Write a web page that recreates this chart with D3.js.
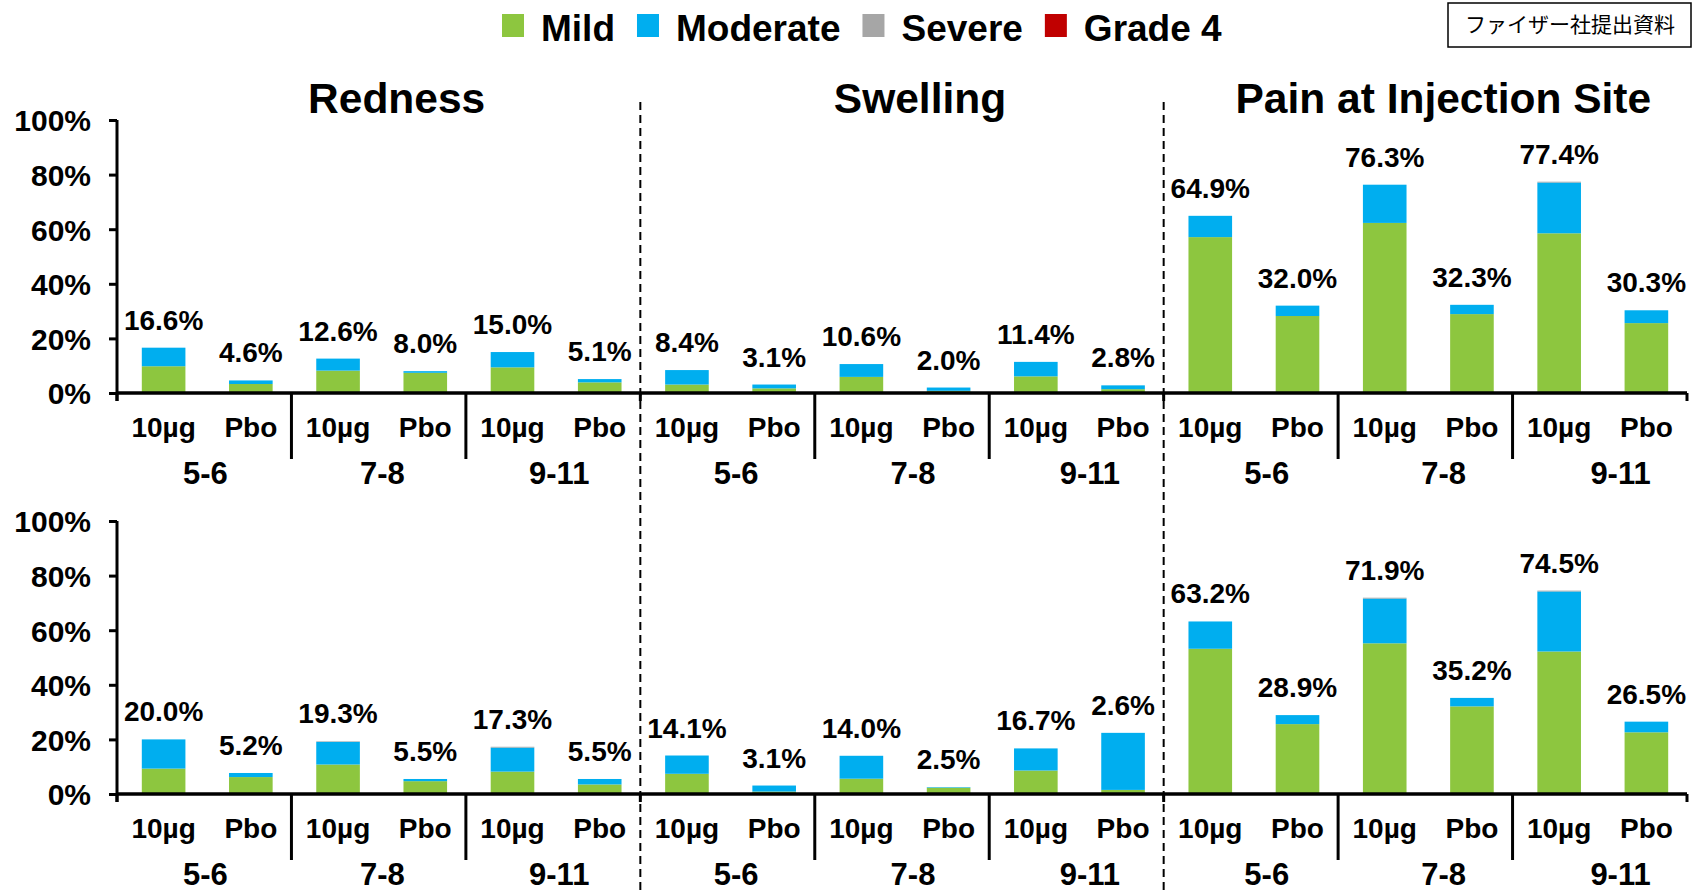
<!DOCTYPE html>
<html>
<head>
<meta charset="utf-8">
<script src="https://cdn.jsdelivr.net/npm/d3@7"></script>
<style>
  body { margin: 0; background: #fff; }
  svg text { font-family: "Liberation Sans", Arial, sans-serif; font-weight: bold; fill: #000; }
</style>
</head>
<body>
<svg id="chart" width="1704" height="893"></svg>
<script>
// categories
const reactions = ['Redness', 'Swelling', 'Pain at Injection Site'];
const ageGroups = ['5-6', '7-8', '9-11'];
const arms = ['10µg', 'Pbo'];
const severities = ['Mild', 'Moderate', 'Severe', 'Grade 4'];
const sevColors = ['#8DC63F', '#00AEEF', '#A6A6A6', '#C00000'];
const yTicks = [0, 20, 40, 60, 80, 100];

// top row, order: reaction > age group > arm
const mildTop     = [9.8, 3.3, 8.2, 7.4, 9.4, 3.9,  3.1, 1.7, 5.9, 0.8, 6.1, 1.4,  57.1, 28.2, 62.3, 28.9, 58.5, 25.6];
const moderateTop = [6.8, 1.3, 4.4, 0.6, 5.6, 1.2,  5.3, 1.4, 4.7, 1.2, 5.3, 1.4,  7.8, 3.8, 14.0, 3.4, 18.6, 4.7];
const severeTop   = [0, 0, 0, 0, 0, 0,  0, 0, 0, 0, 0, 0,  0, 0, 0, 0, 0.3, 0];
const grade4Top   = [0, 0, 0, 0, 0, 0,  0, 0, 0, 0, 0, 0,  0, 0, 0, 0, 0, 0];
const labelsTop   = ['16.6%', '4.6%', '12.6%', '8.0%', '15.0%', '5.1%', '8.4%', '3.1%', '10.6%', '2.0%', '11.4%', '2.8%',
                     '64.9%', '32.0%', '76.3%', '32.3%', '77.4%', '30.3%'];

// bottom row
const mildBottom     = [9.3, 6.2, 10.8, 4.7, 8.2, 3.5,  7.4, 0.9, 5.6, 2.3, 8.6, 1.5,  53.2, 25.6, 55.2, 32.1, 52.2, 22.6];
const moderateBottom = [10.7, 1.5, 8.3, 0.8, 8.8, 2.0,  6.7, 2.2, 8.4, 0.2, 8.1, 20.9,  10.0, 3.3, 16.4, 3.1, 22.0, 3.9];
const severeBottom   = [0, 0, 0.2, 0, 0.3, 0,  0, 0, 0, 0, 0, 0,  0, 0, 0.3, 0, 0.3, 0];
const grade4Bottom   = [0, 0, 0, 0, 0, 0,  0, 0, 0, 0, 0, 0,  0, 0, 0, 0, 0, 0];
const labelsBottom   = ['20.0%', '5.2%', '19.3%', '5.5%', '17.3%', '5.5%', '14.1%', '3.1%', '14.0%', '2.5%', '16.7%', '2.6%',
                        '63.2%', '28.9%', '71.9%', '35.2%', '74.5%', '26.5%'];

const svg = d3.select('#chart');
const left = 117, right = 1687, plotH = 273;

// keys for the nested bands
const groupKeys = [];
const barKeys = [];
reactions.forEach((r) => ageGroups.forEach((a) => {
  groupKeys.push(r + '|' + a);
  arms.forEach((m) => barKeys.push(r + '|' + a + '|' + m));
}));

const xPanel = d3.scaleBand().domain(reactions).range([left, right]);
const xGroup = d3.scaleBand().domain(groupKeys).range([left, right]);
// age labels sit a little right of the group centres in the original
const xAge = d3.scaleBand().domain(groupKeys).range([left, right + 22]);
const xBar = d3.scaleBand().domain(barKeys).range([left + 3, right + 3])
  .paddingInner(0.5).paddingOuter(0.25);

// legend
let lx = 502;
severities.forEach((s, i) => {
  svg.append('rect').attr('x', lx).attr('y', 14).attr('width', 22).attr('height', 23)
    .attr('fill', sevColors[i]);
  const t = svg.append('text').attr('x', lx + 39).attr('y', 40.5)
    .attr('font-size', 37).text(s);
  lx += 39 + t.node().getComputedTextLength() + 22;
});

// note box
svg.append('rect').attr('x', 1448).attr('y', 3).attr('width', 243).attr('height', 44)
  .attr('fill', 'none').attr('stroke', '#000').attr('stroke-width', 1.5);
svg.append('text').attr('x', 1570).attr('y', 32).attr('text-anchor', 'middle')
  .style('font-family', '"Noto Sans CJK JP", sans-serif').style('font-weight', 'normal')
  .attr('font-size', 21).text('ファイザー社提出資料');

// panel titles
svg.selectAll('.title').data(reactions).enter().append('text')
  .attr('class', 'title')
  .attr('x', (d) => xPanel(d) + xPanel.bandwidth() / 2 + 18)
  .attr('y', 113)
  .attr('text-anchor', 'middle')
  .attr('font-size', 42.5)
  .text((d) => d);

// dashed dividers between panels
svg.selectAll('.divider').data(reactions.slice(1)).enter().append('line')
  .attr('x1', (d) => xPanel(d)).attr('x2', (d) => xPanel(d))
  .attr('y1', 102).attr('y2', 893)
  .attr('stroke', '#000').attr('stroke-width', 2).attr('stroke-dasharray', '8,5');

function drawRow(base, mild, moderate, severe, grade4, labels) {
  const y = d3.scaleLinear().domain([0, 100]).range([base, base - plotH]);
  const g = svg.append('g');

  const rows = barKeys.map((k, i) => ({ key: k, values: [mild[i], moderate[i], severe[i], grade4[i]], label: labels[i] }));
  const stack = d3.stack().keys([0, 1, 2, 3]).value((d, k) => d.values[k]);
  const layers = stack(rows);

  g.selectAll('.layer').data(layers).enter().append('g')
    .attr('fill', (d, i) => sevColors[i])
    .selectAll('rect').data((d) => d.map((p) => ({ p: p, key: p.data.key })))
    .enter().append('rect')
      .attr('x', (d) => xBar(d.key))
      .attr('width', xBar.bandwidth())
      .attr('y', (d) => y(d.p[1]))
      .attr('height', (d) => y(d.p[0]) - y(d.p[1]));

  // total labels
  g.selectAll('.val').data(rows).enter().append('text')
    .attr('x', (d) => xBar(d.key) + xBar.bandwidth() / 2)
    .attr('y', (d) => y(d3.sum(d.values)) - 18)
    .attr('text-anchor', 'middle')
    .attr('font-size', 28)
    .text((d) => d.label);

  // y axis
  const yAxis = g.append('g').attr('transform', 'translate(' + left + ',0)')
    .call(d3.axisLeft(y).tickValues(yTicks).tickFormat((d) => d + '%').tickSize(8).tickPadding(18));
  yAxis.select('.domain').remove();
  yAxis.selectAll('line').attr('stroke', '#000').attr('stroke-width', 3);
  yAxis.selectAll('text').attr('font-size', 30).attr('dy', '0.36em')
    .style('font-family', '"Liberation Sans", Arial, sans-serif').style('font-weight', 'bold');
  g.append('line').attr('x1', left).attr('x2', left).attr('y1', y(100)).attr('y2', base + 8)
    .attr('stroke', '#000').attr('stroke-width', 3);

  // x axis with arm labels
  const xAxis = g.append('g').attr('transform', 'translate(0,' + base + ')')
    .call(d3.axisBottom(xBar).tickSize(0).tickPadding(24).tickFormat((d) => d.split('|')[2]));
  xAxis.select('.domain').remove();
  xAxis.selectAll('text').attr('font-size', 28)
    .style('font-family', '"Liberation Sans", Arial, sans-serif').style('font-weight', 'bold');
  g.append('line').attr('x1', left).attr('x2', right).attr('y1', base).attr('y2', base)
    .attr('stroke', '#000').attr('stroke-width', 3.5);

  // age group labels
  g.selectAll('.age').data(groupKeys).enter().append('text')
    .attr('x', (d) => xAge(d) + xAge.bandwidth() / 2)
    .attr('y', base + 91)
    .attr('text-anchor', 'middle')
    .attr('font-size', 31)
    .text((d) => d.split('|')[1]);

  // group separators: long inside panels, short at panel edges
  const bounds = groupKeys.map((k) => xGroup(k)).concat([right]);
  g.selectAll('.sep').data(bounds).enter().append('line')
    .attr('x1', (d) => d).attr('x2', (d) => d)
    .attr('y1', base)
    .attr('y2', (d, i) => (i % 3 === 0 ? base + 8 : base + 66))
    .attr('stroke', '#000').attr('stroke-width', 3);
}

drawRow(393, mildTop, moderateTop, severeTop, grade4Top, labelsTop);
drawRow(794, mildBottom, moderateBottom, severeBottom, grade4Bottom, labelsBottom);
</script>
</body>
</html>
